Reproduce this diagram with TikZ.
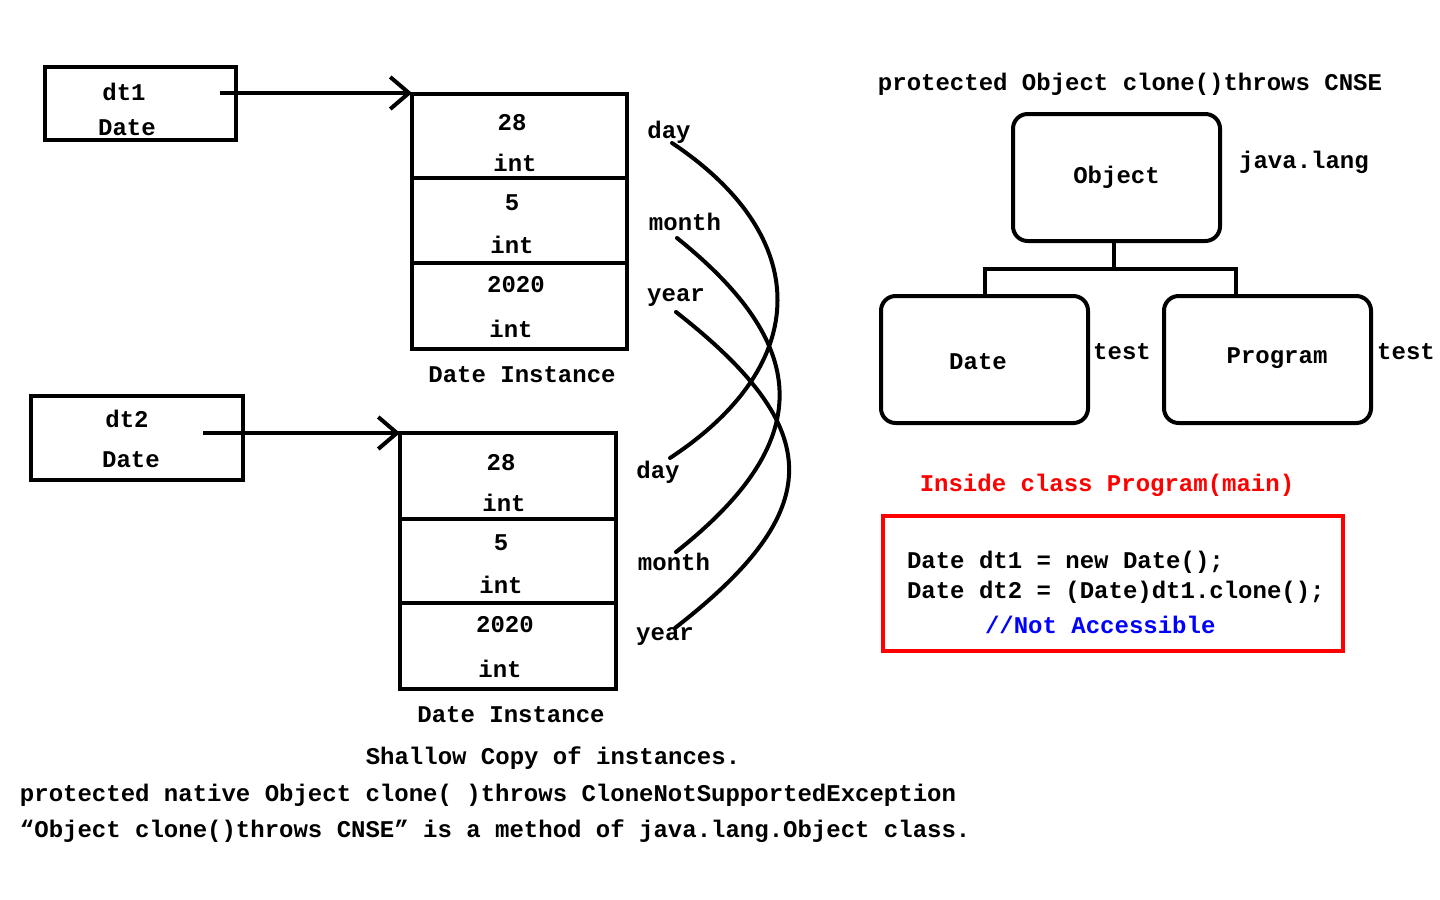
\documentclass[tikz,border=0pt]{standalone}
\usepackage{fontspec}
\setmainfont{Liberation Mono}
\usetikzlibrary{arrows.meta,calc}
\newdimen\px \px=0.75pt
\definecolor{myred}{RGB}{255,0,0}
\definecolor{myblue}{RGB}{0,0,255}
\begin{document}
\begin{tikzpicture}[x=0.75pt,y=-0.75pt,
  every node/.style={font=\bfseries\fontsize{18}{20}\selectfont, inner sep=0pt, outer sep=0pt},
  sz/.style 2 args={minimum width=#1\px, minimum height=#2\px},
  cellbox/.style={draw, line width=3pt},
  rbox/.style={draw, line width=3pt, rounded corners=11pt},
  ptr/.style={line width=3pt, -{Straight Barb[length=14pt, width=24pt, line width=3pt]}},
  link/.style={line width=3pt},
  curve/.style={line width=3pt, line cap=round}]
\useasboundingbox (0,0) rectangle (1440,900);

% reference boxes
\node[cellbox, sz={191}{73}] (dt1) at (140.5,103.5) {};
\node (dt1a) at (124,92) {dt1};
\node (dt1b) at (127,128) {Date};
\node[cellbox, sz={212}{84}] (dt2) at (137,438) {};
\node (dt2a) at (127,419) {dt2};
\node (dt2b) at (131,460) {Date};

% instance 1
\node[cellbox, sz={215}{84}] (c11) at (519.5,136) {};
\node[cellbox, sz={215}{85}] (c12) at (519.5,220.5) {};
\node[cellbox, sz={215}{86}] (c13) at (519.5,306) {};
\node at (512,123) {28};
\node at (515,163) {int};
\node at (512,203) {5};
\node at (512,245) {int};
\node at (516,285) {2020};
\node at (511,329) {int};
\node (inst1) at (522,375) {Date Instance};

% instance 2
\node[cellbox, sz={216}{86}] (c21) at (508,476) {};
\node[cellbox, sz={216}{84}] (c22) at (508,561) {};
\node[cellbox, sz={216}{86}] (c23) at (508,646) {};
\node at (501,463) {28};
\node at (504,503) {int};
\node at (501,543) {5};
\node at (501,585) {int};
\node at (505,625) {2020};
\node at (500,669) {int};
\node (inst2) at (511,715) {Date Instance};

% pointers
\coordinate (s1) at (220,93);
\coordinate (s2) at (203,433);
\draw[ptr] (s1) -- (c11.north west |- s1);
\draw[ptr] (s2) -- (c21.north west |- s2);

% field labels
\node (dayA) at (669,132) {day};
\node (monA) at (685,222) {month};
\node (yeaA) at (676,298) {year};
\node (dayB) at (658,472) {day};
\node (monB) at (674,562) {month};
\node (yeaB) at (665,637) {year};

\coordinate (dA) at (672,143);
\coordinate (dB) at (670,458);
\coordinate (mA) at (677,238);
\coordinate (mB) at (676,552);
\coordinate (yA) at (676,312);
\coordinate (yB) at (675,628);
\draw[curve] (dA) .. controls (813,237) and (813,364) .. (dB);
\draw[curve] (mA) .. controls (814,348) and (814,443) .. (mB);
\draw[curve] (yA) .. controls (827,430) and (827,510) .. (yB);

% class hierarchy
\node (title) at (1130,84) {protected Object clone()throws CNSE};
\node[rbox, sz={207}{127}] (obj) at (1116.5,177.5) {Object};
\node (jl) at (1304,162) {java.lang};
\node[rbox, sz={207}{127}] (date) at (984.5,359.5) {};
\node at (978,362) {Date};
\node (t1) at (1122,352) {test};
\node[rbox, sz={207}{127}] (prog) at (1267.5,359.5) {};
\node at (1277,358) {Program};
\node (t2) at (1406,352) {test};
\coordinate (junc) at (1114,269);
\coordinate (pdrop) at ($(prog.north)+(-31.5,0)$);
\draw[link] (obj.south -| junc) -- (junc);
\draw[link] (date.north) |- (junc) -| (pdrop);

% code box
\node[text=myred] (inside) at (1107,485) {Inside class Program(main)};
\node[draw=myred, line width=3pt, sz={460}{135}] (code) at (1113,583.5) {};
\node[anchor=west] (l1) at (907,562) {Date dt1 = new Date();};
\node[anchor=west] (l2) at (907,592) {Date dt2 = (Date)dt1.clone();};
\node[anchor=west, text=myblue] (l3) at (985,625) {//Not Accessible};

% bottom notes
\node (n1) at (553,758) {Shallow Copy of instances.};
\node[anchor=west] (n2) at (20,795) {protected native Object clone( )throws CloneNotSupportedException};
\node[anchor=west] (n3) at (20,831) {“Object clone()throws CNSE” is a method of java.lang.Object class.};
\end{tikzpicture}
\end{document}
